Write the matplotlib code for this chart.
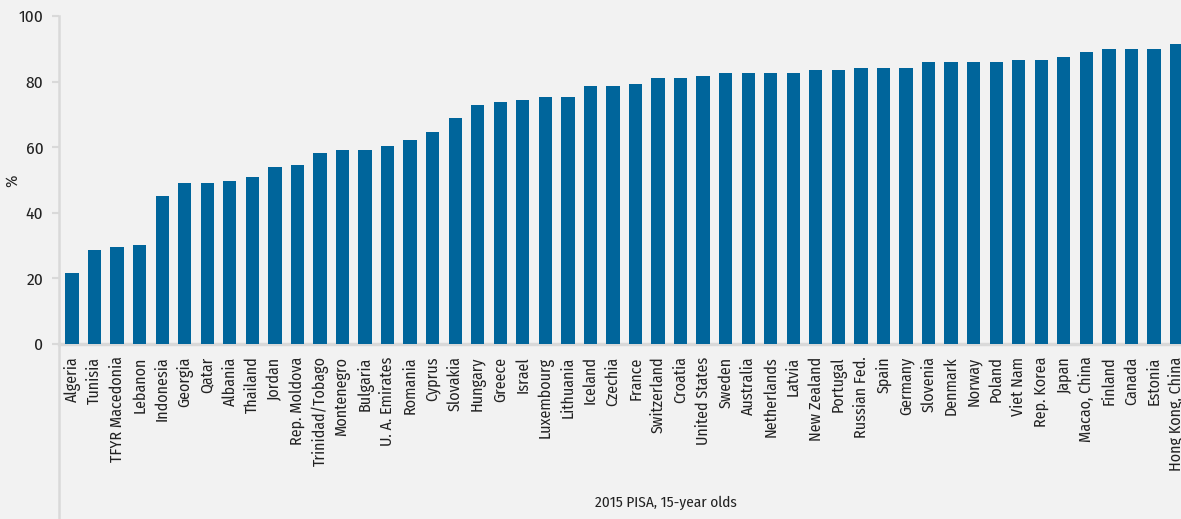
import matplotlib
matplotlib.use("Agg")
import matplotlib.pyplot as plt
import numpy as np

countries = ["Algeria", "Tunisia", "TFYR Macedonia", "Lebanon", "Indonesia", "Georgia",
             "Qatar", "Albania", "Thailand", "Jordan", "Rep. Moldova", "Trinidad/Tobago",
             "Montenegro", "Bulgaria", "U. A. Emirates", "Romania", "Cyprus", "Slovakia",
             "Hungary", "Greece", "Israel", "Luxembourg", "Lithuania", "Iceland", "Czechia",
             "France", "Switzerland", "Croatia", "United States", "Sweden", "Australia",
             "Netherlands", "Latvia", "New Zealand", "Portugal", "Russian Fed.", "Spain",
             "Germany", "Slovenia", "Denmark", "Norway", "Poland", "Viet Nam", "Rep. Korea",
             "Japan", "Macao, China", "Finland", "Canada", "Estonia", "Hong Kong, China"]

share = [21.5, 28.8, 29.7, 30.3, 45.0, 49.2, 49.2, 49.8, 50.8, 54.1, 54.7, 58.1,
         59.0, 59.0, 60.5, 62.1, 64.5, 68.8, 72.8, 73.7, 74.3, 75.2, 75.2, 78.6, 78.6,
         79.2, 81.0, 81.0, 81.7, 82.6, 82.6, 82.6, 82.6, 83.5, 83.5, 84.1, 84.1,
         84.1, 85.9, 85.9, 85.9, 85.9, 86.5, 86.5, 87.5, 89.0, 89.9, 89.9, 89.9, 91.4]

yticks = [0, 20, 40, 60, 80, 100]

plt.rcParams['font.family'] = ['Fira Sans Condensed', 'DejaVu Sans']

bg = "#f2f2f2"
grey = "#d9d9d9"
blue = "#00659b"

fig = plt.figure(figsize=(11.81, 5.19), dpi=100, facecolor=bg)
ax = fig.add_axes([58.7 / 1181, 1 - 344 / 519, 1 - 58.7 / 1181, (344 - 16) / 519])
ax.set_facecolor(bg)

x = np.arange(len(countries))
ax.bar(x, share, width=0.59, color=blue, zorder=2)

ax.set_xlim(-0.59, 49.2)
ax.set_ylim(0, 100)
ax.set_yticks(yticks)
ax.set_xticks(x)
ax.set_xticklabels(countries, rotation=90, fontsize=11.5, color="#222222")
ax.tick_params(axis="x", length=0, pad=9)
ax.tick_params(axis="y", length=5, width=1.5, color=grey, pad=6, labelsize=12.5,
               labelcolor="#222222")

for s in ["top", "right"]:
    ax.spines[s].set_visible(False)
ax.spines["left"].set_color(grey)
ax.spines["left"].set_linewidth(1.8)
ax.spines["bottom"].set_color(grey)
ax.spines["bottom"].set_linewidth(2.5)
ax.spines["bottom"].set_zorder(1)

# left axis line keeps going down past the labels
ax.plot([0, 0], [0, -344 / (344 - 16) * 1.05], transform=ax.transAxes, color=grey,
        lw=1.8, clip_on=False)

ax.set_ylabel("%", fontsize=12, color="#222222")
ax.yaxis.set_label_coords(-38.7 / (1181 - 58.7), 1 - (181 - 16) / (344 - 16))

fig.text(666 / 1181, 1 - 503 / 519, "2015 PISA, 15-year olds", ha="center", va="center",
         fontsize=11, color="#222222")

fig.savefig("out.png", facecolor=bg)
